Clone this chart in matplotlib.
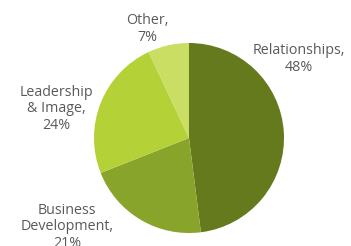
import matplotlib
matplotlib.use("Agg")
import matplotlib.pyplot as plt

categories = ["Relationships", "Business\nDevelopment", "Leadership\n& Image", "Other"]
values = [48, 21, 24, 7]
colors = ["#647A1C", "#89A42A", "#B4D237", "#C9DE62"]

W, H = 351, 246
fig = plt.figure(figsize=(W / 100, H / 100), dpi=100)
cx, cy, r = 189, 138, 95
ax = fig.add_axes([(cx - r) / W, (H - cy - r) / H, 2 * r / W, 2 * r / H])
ax.pie(values, colors=colors, startangle=90, counterclock=False,
       wedgeprops=dict(linewidth=0))
ax.set_xlim(-1, 1)
ax.set_ylim(-1, 1)
ax.set_aspect("equal")
ax.axis("off")

# label positions (pixel centres of text blocks)
label_pos = [(299, 59), (67, 227), (56, 109), (147, 29)]
for cat, v, (x, y) in zip(categories, values, label_pos):
    fig.text(x / W, 1 - y / H, f"{cat},\n{v}%", ha="center", va="center",
             fontsize=10.3, color="#595A5C", family="Open Sans",
             linespacing=1.15)

fig.savefig("out.png", dpi=100)
